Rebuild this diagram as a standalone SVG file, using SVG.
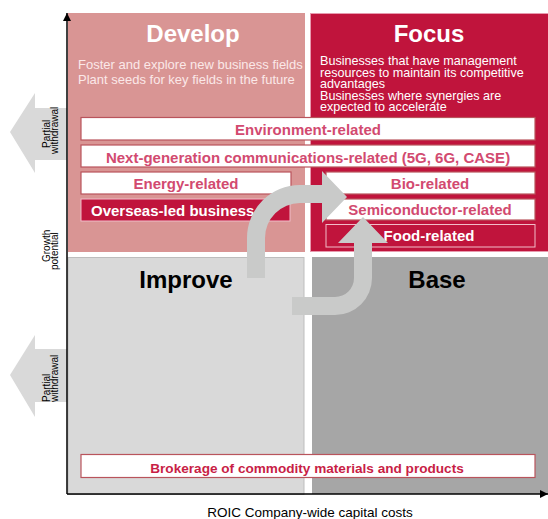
<svg xmlns="http://www.w3.org/2000/svg" width="548" height="519" viewBox="0 0 548 519">
<style>
text{font-family:"Liberation Sans",Arial,sans-serif}
.title{font-size:24px;font-weight:bold;text-anchor:middle}
.desc{font-size:13px;fill:#fbe8e8}
.fdesc{font-size:12.6px;fill:#ffffff}
.wbox{fill:#ffffff;stroke:#b9545c;stroke-width:1.2}
.cbox{fill:#c0143c;stroke:#f2bcc8;stroke-width:1}
.btxt{font-size:15px;font-weight:bold;fill:#d24a70;text-anchor:middle}
.ctxt{font-size:15px;font-weight:bold;fill:#ffffff}
.side{font-size:10px;fill:#000}
.garrow{fill:#c9cac9}
.parrow{fill:#d9d9d9}
</style>
<defs>
<marker id="ah" viewBox="0 0 10 10" refX="10" refY="5" markerWidth="8" markerHeight="8" markerUnits="userSpaceOnUse" orient="auto">
<path d="M0,0 L10,5 L0,10 Z" fill="#000"/>
</marker>
</defs>

<g id="develop">
<rect x="68" y="13" width="237" height="239" fill="#d99594"/>
<text class="title" x="193" y="42" fill="#ffffff">Develop</text>
<text class="desc" x="78" y="69">Foster and explore new business fields</text>
<text class="desc" x="78" y="84">Plant seeds for key fields in the future</text>
</g>

<g id="focus">
<rect x="310.5" y="13.5" width="238" height="238" fill="#c0143c" stroke="#e79aae" stroke-width="1"/>
<text class="title" x="429" y="42" fill="#ffffff">Focus</text>
<text class="fdesc" x="320" y="65">Businesses that have management</text>
<text class="fdesc" x="320" y="76.5">resources  to maintain its competitive</text>
<text class="fdesc" x="320" y="88">advantages</text>
<text class="fdesc" x="320" y="99.5">Businesses where synergies are</text>
<text class="fdesc" x="320" y="111">expected to accelerate</text>
</g>

<g id="improve">
<rect x="68" y="257.5" width="236" height="237" fill="#d9d9d9" stroke="#bdbdbd" stroke-width="1"/>
<text class="title" x="186" y="288" fill="#000000">Improve</text>
</g>

<g id="base">
<rect x="312" y="257" width="236" height="237" fill="#a6a6a6"/>
<text class="title" x="437" y="288" fill="#000000">Base</text>
</g>

<g id="environment">
<rect class="wbox" x="81" y="117.5" width="454" height="22.5"/>
<text class="btxt" x="308" y="135">Environment-related</text>
</g>
<g id="nextgen">
<rect class="wbox" x="81" y="145" width="454" height="22"/>
<text class="btxt" x="308" y="163">Next-generation communications-related (5G, 6G, CASE)</text>
</g>
<g id="energy">
<rect class="wbox" x="81" y="172" width="210" height="22"/>
<text class="btxt" x="186" y="189">Energy-related</text>
</g>
<g id="overseas">
<rect class="cbox" x="81" y="199" width="209" height="22"/>
<text class="ctxt" x="91" y="216">Overseas-led business</text>
</g>
<g id="bio">
<rect class="wbox" x="326" y="172" width="209" height="22"/>
<text class="btxt" x="430" y="189">Bio-related</text>
</g>
<g id="semiconductor">
<rect class="wbox" x="326" y="199" width="209" height="21"/>
<text class="btxt" x="430" y="215">Semiconductor-related</text>
</g>
<g id="food">
<rect class="cbox" x="326" y="224.5" width="209" height="22.5"/>
<text class="ctxt" x="429" y="241" text-anchor="middle">Food-related</text>
</g>
<g id="brokerage">
<rect class="wbox" x="81" y="454.5" width="454" height="23"/>
<text class="btxt" x="307" y="473" style="fill:#c81e46;font-size:13.6px">Brokerage of commodity materials and products</text>
</g>

<g id="connectors">
<path class="garrow" d="M247,278 L247,238 A53,53 0 0 1 300,185 L322,185 L322,171 L347,197 L322,223 L322,203 L300,203 A35,35 0 0 0 265,238 L265,278 Z"/>
<path class="garrow" d="M292,297 L335,297 A19,19 0 0 0 354,278 L354,243 L338,243 L363,217 L388,243 L372,243 L372,278 A37,37 0 0 1 335,315 L292,315 Z"/>
<path class="parrow" d="M67,108 L35,108 L35,93 L10,132 L35,173 L35,160 L67,160 Z"/>
<path class="parrow" d="M67,349 L35,349 L35,335 L10,375 L35,417 L35,402 L67,402 Z"/>
<line x1="67" y1="494" x2="67" y2="13" stroke="#000" stroke-width="1.5" marker-end="url(#ah)"/>
<line x1="67" y1="494" x2="548" y2="494" stroke="#000" stroke-width="1.5" marker-end="url(#ah)"/>
</g>

<g id="labels">
<text class="side" transform="translate(50,148) rotate(-90)">Partial</text>
<text class="side" transform="translate(58,154) rotate(-90)">withdrawal</text>
<text class="side" transform="translate(50,402) rotate(-90)">Partial</text>
<text class="side" transform="translate(58,402) rotate(-90)">withdrawal</text>
<text class="side" transform="translate(50,262) rotate(-90)">Growth</text>
<text class="side" transform="translate(58,270) rotate(-90)">potential</text>
<text x="310" y="517" font-size="13.5" text-anchor="middle" fill="#000">ROIC Company-wide capital costs</text>
</g>
</svg>
